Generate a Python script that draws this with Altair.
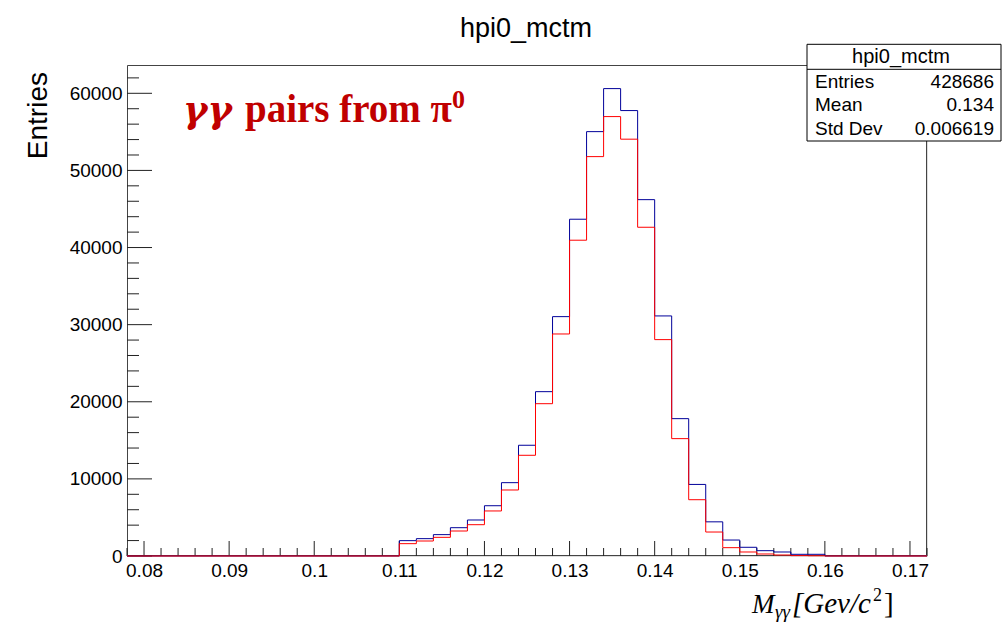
import altair as alt
import pandas as pd

# ---- data ----
bin_lo = [round(0.078 + 0.002 * i, 3) for i in range(47)]  # 47 bins of width 0.002, 0.078..0.172
x_max = 0.172

blue_nonzero = {
    0.110: 1990, 0.112: 2250, 0.114: 2770, 0.116: 3670, 0.118: 4670,
    0.120: 6520, 0.122: 9510, 0.124: 14360, 0.126: 21310, 0.128: 31040,
    0.130: 43670, 0.132: 55030, 0.134: 60610, 0.136: 57760, 0.138: 46210,
    0.140: 31130, 0.142: 17810, 0.144: 9280, 0.146: 4430, 0.148: 2070,
    0.150: 1130, 0.152: 690, 0.154: 520, 0.156: 220, 0.158: 220,
}
red_nonzero = {
    0.110: 1600, 0.112: 1945, 0.114: 2420, 0.116: 3240, 0.118: 4060,
    0.120: 5840, 0.122: 8560, 0.124: 13060, 0.126: 19750, 0.128: 28790,
    0.130: 40950, 0.132: 51790, 0.134: 56980, 0.136: 54050, 0.138: 42630,
    0.140: 28060, 0.142: 15220, 0.144: 7300, 0.146: 3110, 0.148: 1080,
    0.150: 520, 0.152: 260, 0.154: 130, 0.156: 50, 0.158: 30,
}
blue_counts = [blue_nonzero.get(b, 0) for b in bin_lo]
red_counts = [red_nonzero.get(b, 0) for b in bin_lo]

x_tick_labels = [0.08, 0.09, 0.10, 0.11, 0.12, 0.13, 0.14, 0.15, 0.16, 0.17]
y_tick_labels = [0, 10000, 20000, 30000, 40000, 50000, 60000]
x_minor = [round(0.078 + 0.002 * i, 3) for i in range(48)]
y_minor = list(range(0, 64000, 2000))

stats_names = ["Entries", "Mean", "Std Dev"]
stats_values = ["428686", "0.134", "0.006619"]

W, H = 800, 491
xscale = alt.Scale(domain=[0.078, x_max], nice=False, zero=False)
yscale = alt.Scale(domain=[0, 63670], nice=False)

def step_df(counts):
    xs = bin_lo + [x_max]
    ys = counts + [counts[-1]]
    return pd.DataFrame({"x": xs, "y": ys})

FONT = "Liberation Sans"
SERIF = "Liberation Serif"
xaxis = alt.Axis(values=x_tick_labels, format=".2~f", ticks=False, domain=False, grid=False,
                 labelFont=FONT, labelFontSize=19, labelColor="black", labelPadding=5, title=None)
yaxis = alt.Axis(values=y_tick_labels, format="d", ticks=False, domain=False, grid=False,
                 labelFont=FONT, labelFontSize=19, labelColor="black", labelPadding=5, title=None)

def X(field):
    return alt.X(field, scale=xscale, axis=xaxis)

def Y(field):
    return alt.Y(field, scale=yscale, axis=yaxis)

frame = alt.Chart(pd.DataFrame({"a": [0]})).mark_rect(fillOpacity=0, stroke="#444444", strokeWidth=1).encode(
    x=alt.value(0.5), x2=alt.value(W - 0.5), y=alt.value(0.5), y2=alt.value(H - 0.5))

blue = alt.Chart(step_df(blue_counts)).mark_line(interpolate="step-after", color="#000099", strokeWidth=1).encode(
    x=X("x:Q"), y=Y("y:Q"))
red = alt.Chart(step_df(red_counts)).mark_line(interpolate="step-after", color="#ff0000", strokeWidth=1).encode(
    x=X("x:Q"), y=Y("y:Q"))

xmaj = [v for v in x_minor if abs(round(v * 100) - v * 100) < 1e-6]
xmin_ = [v for v in x_minor if v not in xmaj]
ymaj = [v for v in y_minor if v % 10000 == 0]
ymin_ = [v for v in y_minor if v % 10000 != 0]

def xticks(vals, length):
    return alt.Chart(pd.DataFrame({"x": vals})).mark_rule(color="#222222", strokeWidth=1).encode(
        x=X("x:Q"), y=alt.value(H), y2=alt.value(H - length))

def yticks(vals, length):
    return alt.Chart(pd.DataFrame({"y": vals})).mark_rule(color="#222222", strokeWidth=1).encode(
        y=Y("y:Q"), x=alt.value(0), x2=alt.value(length))

def txt(s, x, y, size, font=FONT, **kw):
    return alt.Chart(pd.DataFrame({"t": [s]})).mark_text(
        text=s, font=font, fontSize=size, baseline="alphabetic", **kw
    ).encode(x=alt.value(x), y=alt.value(y))

layers = [
    frame,
    xticks(xmaj, 15), xticks(xmin_, 8), yticks(ymaj, 25), yticks(ymin_, 12),
    blue, red,
    # title
    txt("hpi0_mctm", 399, -28, 27, align="center", color="black"),
    # y-axis title
    txt("Entries", -80, 7, 28, align="right", angle=270, color="black"),
    # x-axis title pieces
    txt("M", 625, 548, 27, font=SERIF, fontStyle="italic", align="left", color="black"),
    txt("γγ", 648, 553, 19, font=SERIF, fontStyle="italic", align="left", color="black"),
    txt("[Gev/c", 665, 548, 29, font=SERIF, fontStyle="italic", align="left", color="black"),
    txt("2", 746, 536, 18, font=SERIF, align="left", color="black"),
    txt("]", 757, 548, 29, font=SERIF, align="left", color="black"),
    # red annotation
    txt("γγ", 56, 57, 37, font="DejaVu Serif", fontStyle="italic", fontWeight="bold", align="left", color="#c00000"),
    txt("pairs from π", 118, 57, 39, font=SERIF, fontWeight="bold", align="left", color="#c00000"),
    txt("0", 325, 43, 26, font=SERIF, fontWeight="bold", align="left", color="#c00000"),
]

# stats box
box = alt.Chart(pd.DataFrame({"a": [0]})).mark_rect(fill="white", stroke="black", strokeWidth=1).encode(
    x=alt.value(680), x2=alt.value(874), y=alt.value(-20.7), y2=alt.value(76))
sep = alt.Chart(pd.DataFrame({"a": [0]})).mark_rule(color="black", strokeWidth=1).encode(
    x=alt.value(680), x2=alt.value(874), y=alt.value(4.3))
layers += [box, sep, txt("hpi0_mctm", 774, -2, 20, align="center", color="black")]
for i, (n, v) in enumerate(zip(stats_names, stats_values)):
    by = 22.5 + 23.5 * i
    layers.append(txt(n, 688, by, 19, align="left", color="black"))
    layers.append(txt(v, 867, by, 19, align="right", color="black"))

chart = alt.layer(*layers).properties(
    width=W, height=H,
    autosize=alt.AutoSizeParams(type="none"),
    padding={"left": 127, "top": 65, "right": 76, "bottom": 67},
).configure_view(stroke="transparent", strokeWidth=0).configure(background="white")

chart.save("out.html", embed_options={"renderer": "svg", "actions": False})
